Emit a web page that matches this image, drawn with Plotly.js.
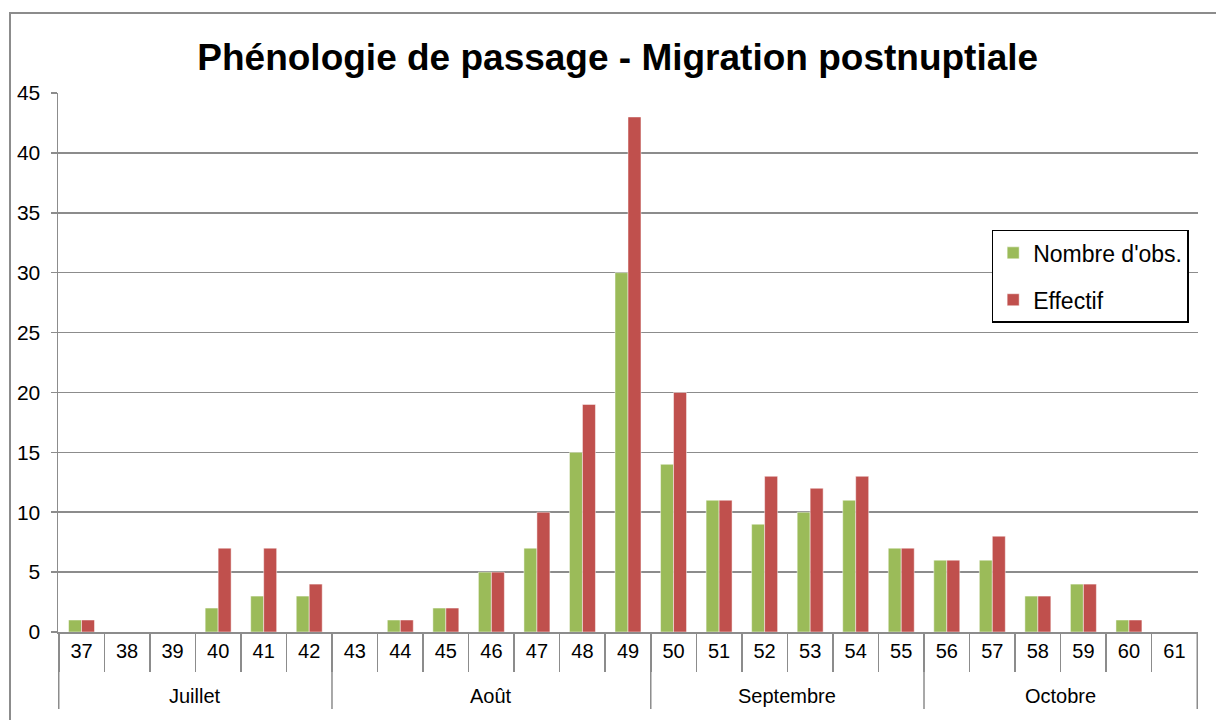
<!DOCTYPE html>
<html>
<head>
<meta charset="utf-8">
<script src="https://cdn.plot.ly/plotly-3.0.1.min.js"></script>
<style>
  html, body { margin: 0; padding: 0; background: #fff; }
  #wrap { position: relative; width: 1216px; height: 720px; overflow: hidden; }
  #chart { width: 1216px; height: 720px; }
  #frame { position: absolute; left: 9px; top: 12px; width: 1220px; height: 720px;
           border: 2px solid #8c8c8c; pointer-events: none; box-sizing: border-box; }
</style>
</head>
<body>
<div id="wrap">
  <div id="chart"></div>
  <div id="frame"></div>
</div>
<script>
const titleText = "Phénologie de passage - Migration postnuptiale";
const weeks = ["37","38","39","40","41","42","43","44","45","46","47","48","49","50","51","52","53","54","55","56","57","58","59","60","61"];
const monthOfWeek = ["Juillet","Juillet","Juillet","Juillet","Juillet","Juillet",
  "Août","Août","Août","Août","Août","Août","Août",
  "Septembre","Septembre","Septembre","Septembre","Septembre","Septembre",
  "Octobre","Octobre","Octobre","Octobre","Octobre","Octobre"];
const seriesNames = ["Nombre d'obs.", "Effectif"];
const nombreObs = [1,0,0,2,3,3,0,1,2,5,7,15,30,14,11,9,10,11,7,6,6,3,4,1,0];
const effectif  = [1,0,0,7,7,4,0,1,2,5,10,19,43,20,11,13,12,13,7,6,8,3,4,1,0];
const yTicks = [0,5,10,15,20,25,30,35,40,45];

const FONT = "Liberation Sans, Arial, sans-serif";
const GRID = "#8c8c8c";

// plot area geometry (pixels) used to place the month row below the week row
const PLOT_H = 720 - 93 - 88;
const MONTH_LABEL_Y = -64 / PLOT_H;
const DIVIDER_Y = -77 / PLOT_H;

// month groups derived from monthOfWeek
const groups = [];
monthOfWeek.forEach((m, i) => {
  if (!groups.length || groups[groups.length - 1].name !== m) groups.push({ name: m, start: i, end: i });
  else groups[groups.length - 1].end = i;
});

const annotations = groups.map(g => ({
  xref: "x", yref: "paper", x: (g.start + g.end) / 2, y: MONTH_LABEL_Y,
  text: g.name, showarrow: false, xanchor: "center", yanchor: "middle",
  font: { family: FONT, size: 20, color: "#000" }
}));
const dividerPos = groups.map(g => g.start - 0.5).concat([groups[groups.length - 1].end + 0.5]);
const shapes = dividerPos.map(p => ({
  type: "line", xref: "x", yref: "paper", x0: p, x1: p, y0: 0, y1: DIVIDER_Y,
  line: { color: GRID, width: 1.5 }
}));

const traces = [
  { type: "bar", name: seriesNames[0], x: weeks, y: nombreObs,
    legendgroup: "a",
    marker: { color: "#9BBB59", line: { color: "rgba(255,255,255,0.6)", width: 0.8 } } },
  { type: "bar", name: seriesNames[1], x: weeks, y: effectif,
    legendgroup: "b",
    marker: { color: "#C0504D", line: { color: "rgba(255,255,255,0.6)", width: 0.8 } } }
];

const layout = {
  width: 1216, height: 720,
  margin: { l: 58, r: 18, t: 93, b: 88, pad: 0 },
  paper_bgcolor: "#ffffff", plot_bgcolor: "#ffffff",
  font: { family: FONT, color: "#000", size: 20 },
  title: { text: "<b>" + titleText + "</b>", font: { family: FONT, size: 37, color: "#000" },
           x: 0.508, xref: "container", xanchor: "center", y: 0.921, yref: "container", yanchor: "middle" },
  barmode: "group", bargap: 0.43, bargroupgap: 0,
  showlegend: true,
  legend: { x: 0.819, xanchor: "left", y: 0.746, yanchor: "top",
            bgcolor: "#fff", bordercolor: "#000", borderwidth: 1.5,
            font: { family: FONT, size: 23, color: "#000" },
            traceorder: "grouped", tracegroupgap: 14 },
  annotations: annotations,
  shapes: shapes,
  xaxis: {
    type: "category",
    showline: true, linecolor: GRID, linewidth: 1.5,
    ticks: "outside", tickson: "boundaries", ticklen: 38, tickcolor: GRID, tickwidth: 1.5,
    tickfont: { family: FONT, size: 20, color: "#000" },
    showgrid: false, zeroline: false, fixedrange: true
  },
  yaxis: {
    range: [0, 45], tickvals: yTicks, ticktext: yTicks.map(String),
    showgrid: true, gridcolor: GRID, gridwidth: 1.5,
    showline: true, linecolor: GRID, linewidth: 1.5,
    ticks: "outside", ticklen: 6, tickcolor: GRID, tickwidth: 1.5,
    ticklabelstandoff: 6,
    tickfont: { family: FONT, size: 21, color: "#000" },
    zeroline: false, fixedrange: true
  }
};

Plotly.newPlot("chart", traces, layout, { staticPlot: true, displayModeBar: false });
</script>
</body>
</html>
